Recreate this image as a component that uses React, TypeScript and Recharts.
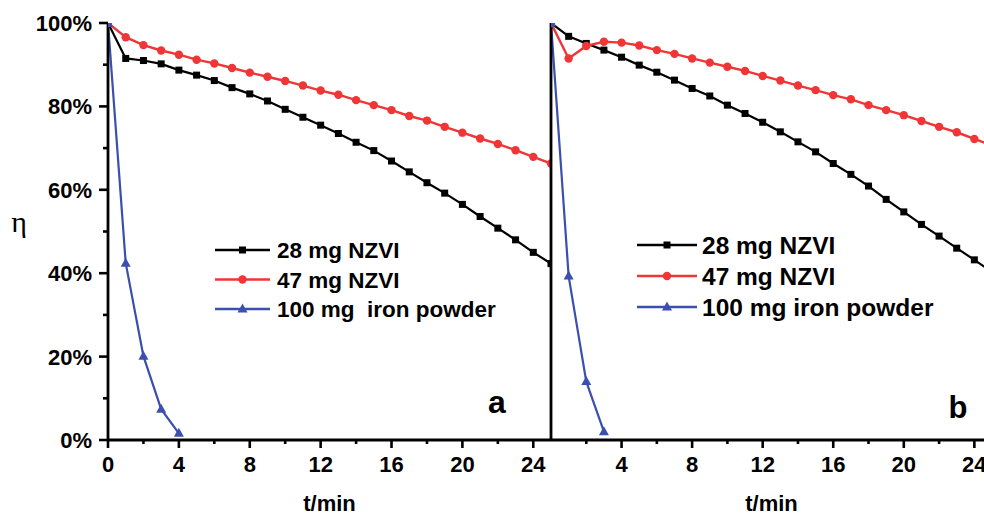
import React from 'react';
import { LineChart, Line, XAxis, YAxis, Legend } from 'recharts';

// ---------- data ----------
const timeA = [0, 1, 2, 3, 4, 5, 6, 7, 8, 9, 10, 11, 12, 13, 14, 15, 16, 17, 18, 19, 20, 21, 22, 23, 24, 25];
const nzvi28A = [100, 91.5, 91.0, 90.2, 88.7, 87.5, 86.2, 84.5, 83.0, 81.3, 79.3, 77.4, 75.5, 73.5, 71.4, 69.4, 66.9, 64.3, 61.7, 59.2, 56.5, 53.6, 50.8, 48.0, 45.0, 42.3];
const nzvi47A = [100, 96.6, 94.7, 93.4, 92.4, 91.2, 90.3, 89.2, 88.1, 87.1, 86.1, 85.0, 83.8, 82.8, 81.5, 80.3, 79.1, 77.7, 76.6, 75.1, 73.7, 72.3, 71.0, 69.5, 67.9, 66.3];
const ironA = [100, 42.4, 20.1, 7.4, 1.6];

const timeB = [0, 1, 2, 3, 4, 5, 6, 7, 8, 9, 10, 11, 12, 13, 14, 15, 16, 17, 18, 19, 20, 21, 22, 23, 24, 25];
const nzvi28B = [100, 96.8, 95.1, 93.5, 91.8, 89.9, 88.2, 86.3, 84.3, 82.5, 80.3, 78.3, 76.2, 73.9, 71.5, 69.1, 66.3, 63.7, 60.9, 57.7, 54.7, 51.7, 48.9, 46.0, 43.2, 40.3];
const nzvi47B = [100, 91.5, 94.5, 95.5, 95.3, 94.6, 93.5, 92.6, 91.5, 90.5, 89.5, 88.5, 87.3, 86.2, 85.0, 83.9, 82.7, 81.7, 80.3, 79.1, 77.9, 76.5, 75.1, 73.8, 72.2, 70.6];
const ironB = [100, 39.3, 14.0, 2.0];

const namesA = ['28 mg NZVI', '47 mg NZVI', '100 mg  iron powder'];
const namesB = ['28 mg NZVI', '47 mg NZVI', '100 mg iron powder'];
const seriesOrder = ['s28', 's47', 'iron'];

const yTicks = [0, 10, 20, 30, 40, 50, 60, 70, 80, 90, 100];
const yTicksB = [10, 20, 30, 40, 50, 60, 70, 80, 90];
const xTicksBottomA = [0, 2, 4, 6, 8, 10, 12, 14, 16, 18, 20, 22, 24];
const xTicksBottomB = [2, 4, 6, 8, 10, 12, 14, 16, 18, 20, 22, 24];
const xTicksTop = [4, 8, 12, 16, 20, 24];
const xLabel = 't/min';
const yLabel = 'η';
const panelLetters = ['a', 'b'];

// ---------- styles ----------
const FONT = '"Liberation Sans", Arial, Helvetica, sans-serif';
const SERIF = '"Liberation Serif", "DejaVu Serif", serif';
const BLACK = '#000000';
const RED = '#ef3535';
const BLUE = '#3b4fae';
const AXIS_W = 2.8;

const buildRows = (time: number[], s28: number[], s47: number[], iron: number[]) =>
  time.map((t, i) => ({ t, s28: s28[i], s47: s47[i], iron: iron[i] }));

const dataA = buildRows(timeA, nzvi28A, nzvi47A, ironA);
const dataB = buildRows(timeB, nzvi28B, nzvi47B, ironB);

// ---------- markers ----------
const squareDot = (p: any) => {
  if (p.cx == null || p.cy == null || p.value == null) return <g key={`sq-${p.index}`} />;
  return <rect key={`sq-${p.index}`} x={p.cx - 3.5} y={p.cy - 3.5} width={7} height={7} fill={BLACK} />;
};
const circleDot = (p: any) => {
  if (p.cx == null || p.cy == null || p.value == null) return <g key={`ci-${p.index}`} />;
  return <circle key={`ci-${p.index}`} cx={p.cx} cy={p.cy} r={4.2} fill={RED} />;
};
const triDot = (p: any) => {
  if (p.cx == null || p.cy == null || p.value == null) return <g key={`tr-${p.index}`} />;
  const { cx, cy } = p;
  return (
    <polygon
      key={`tr-${p.index}`}
      points={`${cx},${cy - 5.5} ${cx - 5},${cy + 3.5} ${cx + 5},${cy + 3.5}`}
      fill={BLUE}
    />
  );
};

const markerShape = (type: string, cx: number, cy: number, color: string) => {
  if (type === 'square') return <rect x={cx - 3.5} y={cy - 3.5} width={7} height={7} fill={color} />;
  if (type === 'circle') return <circle cx={cx} cy={cy} r={4.2} fill={color} />;
  return <polygon points={`${cx},${cy - 5.5} ${cx - 5},${cy + 3.5} ${cx + 5},${cy + 3.5}`} fill={color} />;
};

// ---------- ticks ----------
const YTickA = (props: any) => {
  const { x, y, payload } = props;
  const v = payload.value;
  const major = v % 20 === 0;
  return (
    <g>
      <line x1={x - (major ? 9 : 5)} x2={x} y1={y} y2={y} stroke={BLACK} strokeWidth={2.6} />
      {major && (
        <text x={x - 16} y={y} dy="0.36em" textAnchor="end" fontFamily={FONT} fontWeight="bold" fontSize={22} fill={BLACK} stroke="none">
          {`${v}%`}
        </text>
      )}
    </g>
  );
};

const XTick = (props: any) => {
  const { x, y, payload } = props;
  const v = payload.value;
  const major = v % 4 === 0;
  return (
    <g>
      <line x1={x} x2={x} y1={y} y2={y + (major ? 8 : 4)} stroke={BLACK} strokeWidth={2.6} />
      {major && (
        <text x={x} y={y + 32} textAnchor="middle" fontFamily={FONT} fontWeight="bold" fontSize={22} fill={BLACK} stroke="none">
          {v}
        </text>
      )}
    </g>
  );
};

// ---------- legend ----------
const keyOf = (e: any) => e.dataKey ?? (e.payload && e.payload.dataKey);

const makeLegend = (cfg: { lineW: number; gap: number; row0: number; rowGap: number; fontSize: number }) => (props: any) => {
  const payload = [...(props.payload || [])].sort(
    (a: any, b: any) => seriesOrder.indexOf(keyOf(a)) - seriesOrder.indexOf(keyOf(b))
  );
  return (
    <svg width={360} height={110} style={{ overflow: 'visible' }}>
      {payload.map((e: any, i: number) => {
        const cy = cfg.row0 + i * cfg.rowGap;
        return (
          <g key={`lg-${i}`}>
            <line x1={0} x2={cfg.lineW} y1={cy} y2={cy} stroke={e.color} strokeWidth={2.4} />
            {markerShape(e.type, cfg.lineW / 2, cy, e.color)}
            <text
              x={cfg.lineW + cfg.gap}
              y={cy}
              dy="0.36em"
              fontFamily={FONT}
              fontWeight="bold"
              fontSize={cfg.fontSize}
              fill={BLACK}
              style={{ whiteSpace: 'pre' }}
            >
              {e.value}
            </text>
          </g>
        );
      })}
    </svg>
  );
};

const legendA = makeLegend({ lineW: 55, gap: 7, row0: 20, rowGap: 29.5, fontSize: 22.5 });
const legendB = makeLegend({ lineW: 60, gap: 5, row0: 20, rowGap: 31, fontSize: 24.5 });

const axisLine = { stroke: BLACK, strokeWidth: AXIS_W };

const etaLabel = (lp: any) => {
  const vb = lp.viewBox || { x: 0, y: 0, width: 0, height: 0 };
  return (
    <text x={vb.x + 19} y={vb.y + vb.height / 2} textAnchor="middle" fontFamily={SERIF} fontSize={30} fill={BLACK}>
      {yLabel}
    </text>
  );
};

const seriesLines = (names: string[]) => [
  <Line key="s28" dataKey="s28" name={names[0]} stroke={BLACK} strokeWidth={2.2} dot={squareDot} activeDot={false} legendType="square" isAnimationActive={false} />,
  <Line key="s47" dataKey="s47" name={names[1]} stroke={RED} strokeWidth={2.4} dot={circleDot} activeDot={false} legendType="circle" isAnimationActive={false} />,
  <Line key="iron" dataKey="iron" name={names[2]} stroke={BLUE} strokeWidth={2.2} dot={triDot} activeDot={false} legendType="triangle" isAnimationActive={false} />,
];

const labelProps = { value: xLabel, position: 'insideBottom' as const, offset: 2, fill: BLACK, fontSize: 22, fontWeight: 'bold', fontFamily: FONT };

export default function App() {
  return (
    <div style={{ position: 'absolute', left: 0, top: 0, width: 984, height: 513, overflow: 'hidden', background: '#fff' }}>
      {/* Panel a */}
      <div style={{ position: 'absolute', left: 0, top: 0 }}>
        <LineChart width={560} height={513} data={dataA} margin={{ top: 23, right: 9, bottom: 0, left: 0 }}>
          <XAxis
            dataKey="t"
            type="number"
            domain={[0, 25]}
            allowDataOverflow
            ticks={xTicksBottomA}
            interval={0}
            height={73}
            tickSize={0}
            tickMargin={0}
            tickLine={false}
            stroke={BLACK}
            strokeWidth={AXIS_W}
            axisLine={axisLine}
            tick={XTick}
            label={labelProps}
          />
          <XAxis
            xAxisId="top"
            dataKey="t"
            type="number"
            orientation="top"
            domain={[0, 25]}
            allowDataOverflow
            ticks={xTicksTop}
            interval={0}
            height={0}
            mirror
            tickSize={8}
            tick={false}
            stroke={BLACK}
            strokeWidth={AXIS_W}
            tickLine={{ stroke: BLACK, strokeWidth: 2.6 }}
            axisLine={axisLine}
          />
          <YAxis
            type="number"
            domain={[0, 100]}
            allowDataOverflow
            ticks={yTicks}
            interval={0}
            width={108}
            tickSize={0}
            tickMargin={0}
            tickLine={false}
            stroke={BLACK}
            strokeWidth={AXIS_W}
            axisLine={axisLine}
            tick={YTickA}
            label={{ content: etaLabel }}
          />
          {seriesLines(namesA)}
          <Legend
            layout="vertical"
            align="center"
            verticalAlign="middle"
            wrapperStyle={{ left: 215, top: 230, width: 340, height: 100 }}
            content={legendA}
          />
        </LineChart>
      </div>

      {/* Panel b */}
      <div style={{ position: 'absolute', left: 541, top: 0 }}>
        <LineChart width={470} height={513} data={dataB} margin={{ top: 23, right: 19, bottom: 0, left: 0 }}>
          <XAxis
            dataKey="t"
            type="number"
            domain={[0, 25]}
            allowDataOverflow
            ticks={xTicksBottomB}
            interval={0}
            height={73}
            tickSize={0}
            tickMargin={0}
            tickLine={false}
            stroke={BLACK}
            strokeWidth={AXIS_W}
            axisLine={axisLine}
            tick={XTick}
            label={labelProps}
          />
          <XAxis
            xAxisId="top"
            dataKey="t"
            type="number"
            orientation="top"
            domain={[0, 25]}
            allowDataOverflow
            ticks={xTicksTop}
            interval={0}
            height={0}
            mirror
            tickSize={8}
            tick={false}
            stroke={BLACK}
            strokeWidth={AXIS_W}
            tickLine={{ stroke: BLACK, strokeWidth: 2.6 }}
            axisLine={axisLine}
          />
          <YAxis
            type="number"
            domain={[0, 100]}
            allowDataOverflow
            ticks={yTicksB}
            interval={0}
            width={10}
            tickSize={6}
            tick={false}
            stroke={BLACK}
            strokeWidth={AXIS_W}
            tickLine={{ stroke: BLACK, strokeWidth: 2.6 }}
            axisLine={axisLine}
          />
          {seriesLines(namesB)}
          <Legend
            layout="vertical"
            align="center"
            verticalAlign="middle"
            wrapperStyle={{ left: 96, top: 225, width: 340, height: 100 }}
            content={legendB}
          />
        </LineChart>
      </div>

      {/* panel letters */}
      <svg width={984} height={513} style={{ position: 'absolute', left: 0, top: 0, pointerEvents: 'none' }}>
        <text x={497} y={413} textAnchor="middle" fontFamily={FONT} fontWeight="bold" fontSize={32} fill={BLACK}>
          {panelLetters[0]}
        </text>
        <text x={958} y={418} textAnchor="middle" fontFamily={FONT} fontWeight="bold" fontSize={31} fill={BLACK}>
          {panelLetters[1]}
        </text>
      </svg>
    </div>
  );
}
